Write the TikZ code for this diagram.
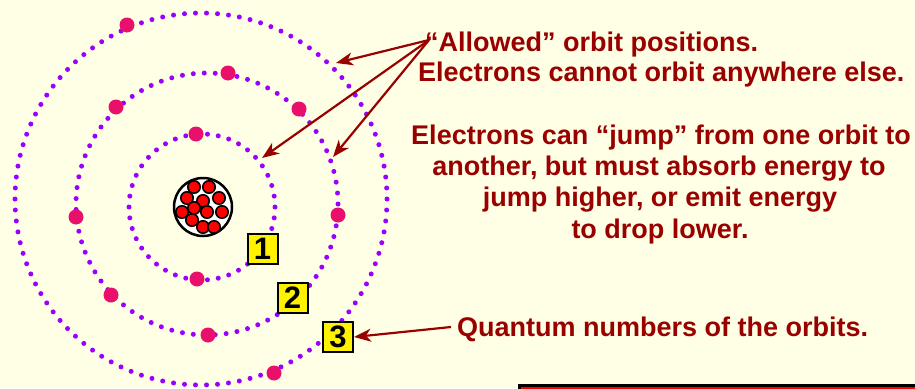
\documentclass[tikz,border=0pt]{standalone}
\usepackage{fontspec}
\setmainfont{Liberation Sans}
\usetikzlibrary{arrows.meta}
\definecolor{paper}{HTML}{FFFFE6}
\definecolor{darkred}{HTML}{990000}
\definecolor{orbitdot}{HTML}{9900FF}
\definecolor{electron}{HTML}{E8106A}
\begin{document}
\begin{tikzpicture}[x=1pt,y=-1pt,
  label text/.style={text=darkred,font=\fontsize{27}{31}\selectfont\bfseries,inner sep=0pt},
  numbox/.style={draw=black,line width=2pt,fill=yellow,minimum size=30pt,inner sep=0pt,
                 font=\fontsize{31}{31}\selectfont\bfseries},
  pointer/.style={draw=darkred,line width=2.2pt,-{Stealth[length=17pt,width=13pt,inset=5pt]}},
  eball/.style={fill=electron},
  proton/.style={fill=red,draw=black,line width=1.6pt}]
\fill[paper] (0,0) rectangle (915,388);
\useasboundingbox (0,0) rectangle (915,388);
\clip (0,0) rectangle (915,388);

% dotted orbits
\foreach \cx/\cy/\r/\n in {202/207/73/42, 207/204/131/75, 201/199/186/106}{
  \foreach \i in {1,...,\n}
    \fill[orbitdot] (\cx,\cy) ++({360/\n*\i}:\r) circle (2.5);
}

% electrons
\foreach \x/\y in {196/134, 197/279,
    228/73, 116/107, 299/109, 76/217, 338/215, 111/295, 208/335,
    127/25, 274/373}
  \fill[eball] (\x,\y) circle (7.5);

% nucleus
\node[circle,draw=black,line width=2.5pt,fill=white,minimum size=58pt,inner sep=0pt] (nucleus) at (203,207) {};
\foreach \x/\y in {194/187, 209/187, 187/198, 203/201, 219/198, 194/208,
    182/212, 207/212, 222/212, 192/220, 203/227, 214/227}
  \filldraw[proton] (\x,\y) circle (6.2);

% orbit numbers
\node[numbox] (n1) at (262.5,249) {1};
\node[numbox] (n2) at (292.5,297.5) {2};
\node[numbox] (n3) at (338,337) {3};

% texts
\node[label text,anchor=base west] (allowed) at (425,51) {“Allowed” orbit positions.};
\node[label text,anchor=base west] (nowhere) at (418,81) {Electrons cannot orbit anywhere else.};
\node[label text,anchor=base] (jump1) at (661,144) {Electrons can “jump” from one orbit to};
\node[label text,anchor=base] (jump2) at (659,175) {another, but must absorb energy to};
\node[label text,anchor=base] (jump3) at (660,206) {jump higher, or emit energy};
\node[label text,anchor=base] (jump4) at (660,238) {to drop lower.};
\node[label text,anchor=base west] (quantum) at (457,336) {Quantum numbers of the orbits.};

% pointers
\coordinate (src) at (429,40);
\coordinate (tipA) at (336,63);
\coordinate (tipB) at (262,158);
\coordinate (tipC) at (333,157);
\coordinate (qsrc) at (451,327);
\draw[pointer] (src) -- (tipA);
\draw[pointer] (src) -- (tipB);
\draw[pointer] (src) -- (tipC);
\draw[pointer] (qsrc) -- (n3.east);

% bar at the lower edge
\node[draw=black,line width=3pt,fill=red,anchor=north west,minimum width=420pt,minimum height=30pt,inner sep=0pt] (bar) at (518,383.5) {};
\end{tikzpicture}
\end{document}
